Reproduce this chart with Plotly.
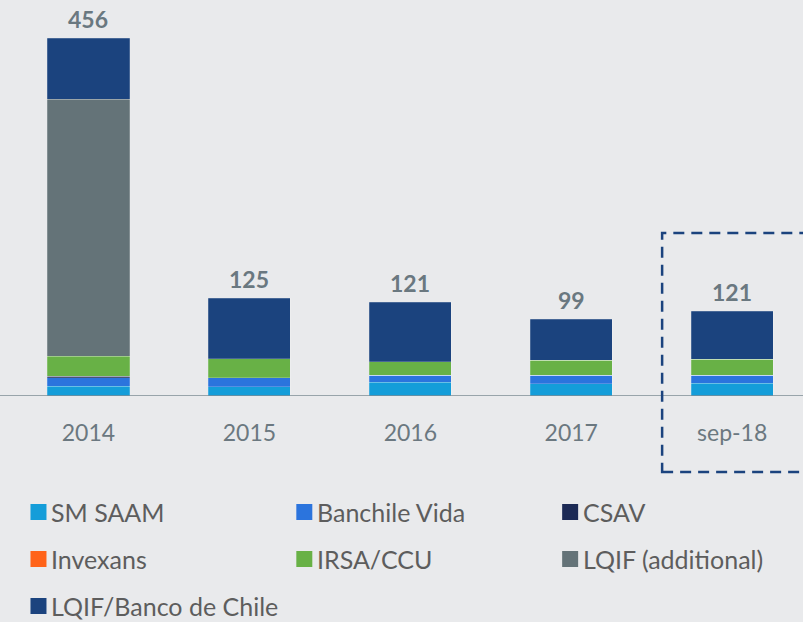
import plotly.graph_objects as go

categories = ["2014", "2015", "2016", "2017", "sep-18"]
totals_text = ["456", "125", "121", "99", "121"]

series_names = ["SM SAAM", "Banchile Vida", "CSAV", "Invexans", "IRSA/CCU",
                "LQIF (additional)", "LQIF/Banco de Chile"]
series_colors = ["#149dd9", "#2b74dd", "#1c2a55", "#ff6319", "#68b146",
                 "#647378", "#1b437e"]

sm_saam = [12.4, 11.5, 17.5, 15.3, 16.2]
banchile_vida = [11.0, 11.5, 9.0, 11.0, 10.2]
csav = [2.0, 0, 0, 0, 0]
invexans = [0, 0, 0, 0, 0]
irsa_ccu = [25.5, 24.6, 17.0, 19.0, 20.6]
lqif_additional = [327.4, 0, 0, 0, 0]
lqif_banco = [77.7, 77.0, 76.0, 52.6, 61.0]

series_values = [sm_saam, banchile_vida, csav, invexans, irsa_ccu,
                 lqif_additional, lqif_banco]

FONT = "Lato"
BG = "#e9eaec"

fig = go.Figure()
for name, color, vals in zip(series_names, series_colors, series_values):
    fig.add_trace(go.Bar(
        x=categories, y=vals, name=name,
        marker=dict(color=color, line=dict(color="rgba(255,255,255,0.25)", width=0.8)),
        width=0.51, showlegend=False,
    ))

stack_tops = [sum(v[i] for v in series_values) for i in range(len(categories))]
for i, (top, txt) in enumerate(zip(stack_tops, totals_text)):
    fig.add_annotation(x=i, y=top, text="<b>%s</b>" % txt, showarrow=False,
                       yanchor="bottom", yshift=3,
                       font=dict(family=FONT, size=23, color="#6a7880"))

# Axis baseline
fig.add_shape(type="line", xref="paper", yref="y", x0=-0.02, x1=1.0, y0=0, y1=0,
              line=dict(color="#7d8c95", width=1.5))

# Dashed highlight box
fig.add_shape(type="rect", xref="paper", yref="paper",
              x0=0.8228, x1=1.06, y0=-0.197, y1=0.4223,
              line=dict(color="#1b437e", width=2.5, dash="11px,7px"))

# Manual legend (3 columns)
col_x = [30, 296, 562]
row_y = [512, 559, 606]
W, H = 803, 622
ml, mr, mt, mb = 7.5, 0, 10, 226
pw, ph = W - ml - mr, H - mt - mb
for i, (name, color) in enumerate(zip(series_names, series_colors)):
    cx = col_x[i % 3]
    cy = row_y[i // 3]
    x0p = (cx - ml) / pw
    x1p = (cx + 16 - ml) / pw
    y0p = (H - mb - (cy + 8)) / ph
    y1p = (H - mb - (cy - 8)) / ph
    fig.add_shape(type="rect", xref="paper", yref="paper",
                  x0=x0p, x1=x1p, y0=y0p, y1=y1p,
                  line=dict(width=0), fillcolor=color)
    fig.add_annotation(xref="paper", yref="paper",
                       x=(cx + 19 - ml) / pw, y=(H - mb - cy) / ph,
                       text=name, showarrow=False, xanchor="left", yanchor="middle",
                       font=dict(family=FONT, size=25, color="#5d5d5d"))

fig.update_layout(
    barmode="stack",
    width=W, height=H,
    margin=dict(l=ml, r=mr, t=mt, b=mb, pad=0),
    paper_bgcolor=BG, plot_bgcolor=BG,
    xaxis=dict(type="category", range=[-0.5, 4.44], showgrid=False, showline=False,
               zeroline=False, ticks="",
               tickfont=dict(family=FONT, size=23, color="#6b7880"),
               ticklabelstandoff=21),
    yaxis=dict(range=[0, 491.7], visible=False),
    showlegend=False,
)

fig.write_html("out.html", config={"displayModeBar": False},
               post_script="document.body.style.margin='0';document.body.style.background='%s';" % BG)
